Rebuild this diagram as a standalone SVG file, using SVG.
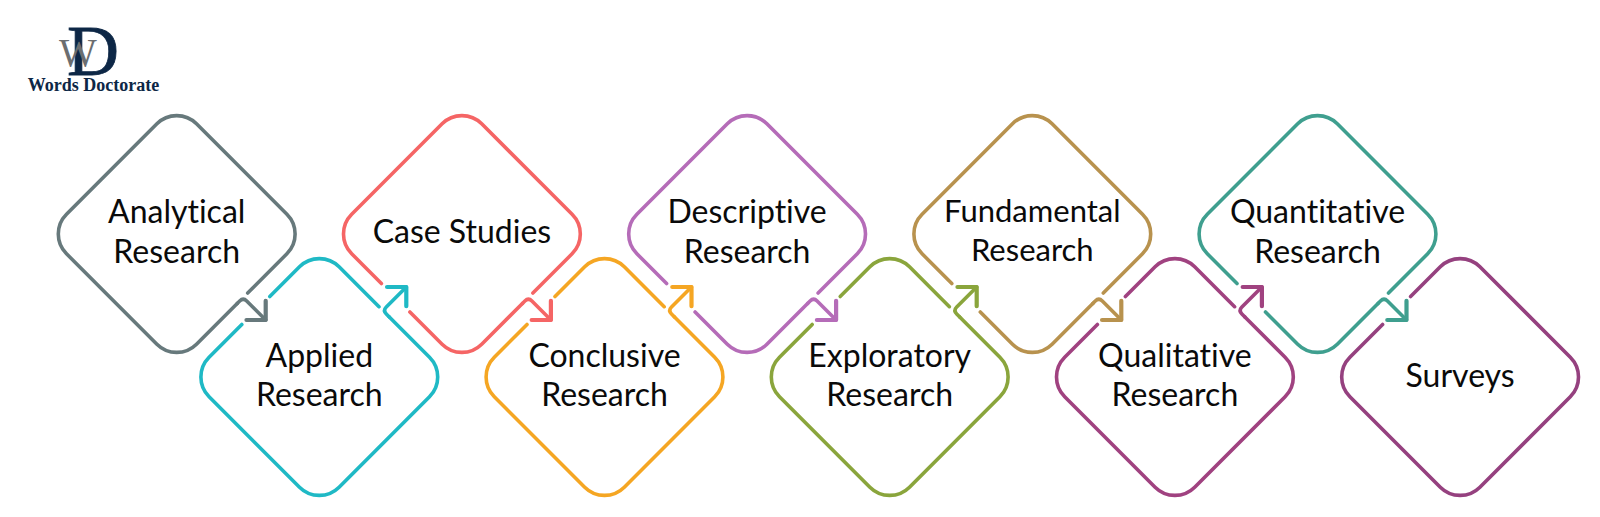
<svg xmlns="http://www.w3.org/2000/svg" width="1600" height="517" viewBox="0 0 1600 517">
<style>
.o,.a{fill:none;stroke-width:3.6;stroke-linecap:round;stroke-linejoin:round}
.t{font-family:Lato,"Open Sans",sans-serif;font-size:32px;fill:#0a0a0a;text-anchor:middle;font-variant-ligatures:none}
.f{font-size:31px}
.m{fill:none;stroke-width:4.2;stroke-linecap:round;stroke-linejoin:round}
.c0{stroke:#67797c}.c1{stroke:#1fb9c5}.c2{stroke:#f56565}.c3{stroke:#f5a623}.c4{stroke:#b56cb8}.c5{stroke:#8aa53c}.c6{stroke:#b8924e}.c7{stroke:#a04280}.c8{stroke:#3f9f8f}.c9{stroke:#95417f}
.s{font-family:"Liberation Serif",serif}
</style>
<defs>
<marker id="h0" markerUnits="userSpaceOnUse" orient="auto" overflow="visible" markerWidth="1" markerHeight="1"><path class="m c0" d="M-13.6,-13.6L0,0L-13.6,13.6"/></marker>
<marker id="h1" markerUnits="userSpaceOnUse" orient="auto" overflow="visible" markerWidth="1" markerHeight="1"><path class="m c1" d="M-13.6,-13.6L0,0L-13.6,13.6"/></marker>
<marker id="h2" markerUnits="userSpaceOnUse" orient="auto" overflow="visible" markerWidth="1" markerHeight="1"><path class="m c2" d="M-13.6,-13.6L0,0L-13.6,13.6"/></marker>
<marker id="h3" markerUnits="userSpaceOnUse" orient="auto" overflow="visible" markerWidth="1" markerHeight="1"><path class="m c3" d="M-13.6,-13.6L0,0L-13.6,13.6"/></marker>
<marker id="h4" markerUnits="userSpaceOnUse" orient="auto" overflow="visible" markerWidth="1" markerHeight="1"><path class="m c4" d="M-13.6,-13.6L0,0L-13.6,13.6"/></marker>
<marker id="h5" markerUnits="userSpaceOnUse" orient="auto" overflow="visible" markerWidth="1" markerHeight="1"><path class="m c5" d="M-13.6,-13.6L0,0L-13.6,13.6"/></marker>
<marker id="h6" markerUnits="userSpaceOnUse" orient="auto" overflow="visible" markerWidth="1" markerHeight="1"><path class="m c6" d="M-13.6,-13.6L0,0L-13.6,13.6"/></marker>
<marker id="h7" markerUnits="userSpaceOnUse" orient="auto" overflow="visible" markerWidth="1" markerHeight="1"><path class="m c7" d="M-13.6,-13.6L0,0L-13.6,13.6"/></marker>
<marker id="h8" markerUnits="userSpaceOnUse" orient="auto" overflow="visible" markerWidth="1" markerHeight="1"><path class="m c8" d="M-13.6,-13.6L0,0L-13.6,13.6"/></marker>
<path id="dtop" d="M-80.5,49.5L-110.2,19.8A28,28,0,0,1,-110.2,-19.8L-19.8,-110.2A28,28,0,0,1,19.8,-110.2L110.2,-19.8A28,28,0,0,1,110.2,19.8L71,59M60.5,69.5L19.8,110.2A28,28,0,0,1,-19.8,110.2L-52,78"/>
<path id="dbot" d="M-49.5,-80.5L-19.8,-110.2A28,28,0,0,1,19.8,-110.2L59.7,-70.3M70,-60L110.2,-19.8A28,28,0,0,1,110.2,19.8L19.8,110.2A28,28,0,0,1,-19.8,110.2L-110.2,19.8A28,28,0,0,1,-110.2,-19.8L-77.5,-52.5"/>
</defs>
<rect width="1600" height="517" fill="#fff"/>
<g id="logo">
<text class="s" x="93" y="75" font-size="72" fill="#0d2746" stroke="#0d2746" stroke-width="0.8" text-anchor="middle">D</text>
<text class="s" x="78" y="66" font-size="40" fill="#6b6e70" text-anchor="middle">W</text>
<text class="s" x="93.5" y="91" font-weight="bold" font-size="18" fill="#0d2746" text-anchor="middle">Words Doctorate</text>
</g>
<g id="connectors">
<path class="a c0" transform="translate(176.7,234)" d="M60.5,69.5L63,67Q66.5,63.5,70,67L89,86" marker-end="url(#h0)"/>
<path class="a c1" transform="translate(319.3,377)" d="M70,-60L67,-63Q63.5,-66.5,67,-70L87,-90" marker-end="url(#h1)"/>
<path class="a c2" transform="translate(461.9,234)" d="M60.5,69.5L63,67Q66.5,63.5,70,67L89,86" marker-end="url(#h2)"/>
<path class="a c3" transform="translate(604.5,377)" d="M70,-60L67,-63Q63.5,-66.5,67,-70L87,-90" marker-end="url(#h3)"/>
<path class="a c4" transform="translate(747.1,234)" d="M60.5,69.5L63,67Q66.5,63.5,70,67L89,86" marker-end="url(#h4)"/>
<path class="a c5" transform="translate(889.7,377)" d="M70,-60L67,-63Q63.5,-66.5,67,-70L87,-90" marker-end="url(#h5)"/>
<path class="a c6" transform="translate(1032.3,234)" d="M60.5,69.5L63,67Q66.5,63.5,70,67L89,86" marker-end="url(#h6)"/>
<path class="a c7" transform="translate(1174.9,377)" d="M70,-60L67,-63Q63.5,-66.5,67,-70L87,-90" marker-end="url(#h7)"/>
<path class="a c8" transform="translate(1317.5,234)" d="M60.5,69.5L63,67Q66.5,63.5,70,67L89,86" marker-end="url(#h8)"/>
</g>
<g id="n0" transform="translate(176.7,234)"><path class="o c0" d="M60.5,69.5L19.8,110.2A28,28,0,0,1,-19.8,110.2L-110.2,19.8A28,28,0,0,1,-110.2,-19.8L-19.8,-110.2A28,28,0,0,1,19.8,-110.2L110.2,-19.8A28,28,0,0,1,110.2,19.8L71,59"/><text class="t" y="-11">Analytical</text><text class="t" y="29">Research</text></g>
<g id="n1" transform="translate(319.3,377)"><use href="#dbot" class="o c1"/><text class="t" y="-10.5">Applied</text><text class="t" y="29">Research</text></g>
<g id="n2" transform="translate(461.9,234)"><use href="#dtop" class="o c2"/><text class="t" y="9">Case Studies</text></g>
<g id="n3" transform="translate(604.5,377)"><use href="#dbot" class="o c3"/><text class="t" y="-10.5">Conclusive</text><text class="t" y="29">Research</text></g>
<g id="n4" transform="translate(747.1,234)"><use href="#dtop" class="o c4"/><text class="t" y="-11">Descriptive</text><text class="t" y="29">Research</text></g>
<g id="n5" transform="translate(889.7,377)"><use href="#dbot" class="o c5"/><text class="t" y="-10.5">Exploratory</text><text class="t" y="29">Research</text></g>
<g id="n6" transform="translate(1032.3,234)"><use href="#dtop" class="o c6"/><text class="t f" y="-12">Fundamental</text><text class="t f" y="27">Research</text></g>
<g id="n7" transform="translate(1174.9,377)"><use href="#dbot" class="o c7"/><text class="t" y="-10.5">Qualitative</text><text class="t" y="29">Research</text></g>
<g id="n8" transform="translate(1317.5,234)"><use href="#dtop" class="o c8"/><text class="t" y="-11">Quantitative</text><text class="t" y="29">Research</text></g>
<g id="n9" transform="translate(1460.1,377)"><path class="o c9" d="M-49.5,-80.5L-19.8,-110.2A28,28,0,0,1,19.8,-110.2L110.2,-19.8A28,28,0,0,1,110.2,19.8L19.8,110.2A28,28,0,0,1,-19.8,110.2L-110.2,19.8A28,28,0,0,1,-110.2,-19.8L-77.5,-52.5"/><text class="t" y="10">Surveys</text></g>
</svg>
